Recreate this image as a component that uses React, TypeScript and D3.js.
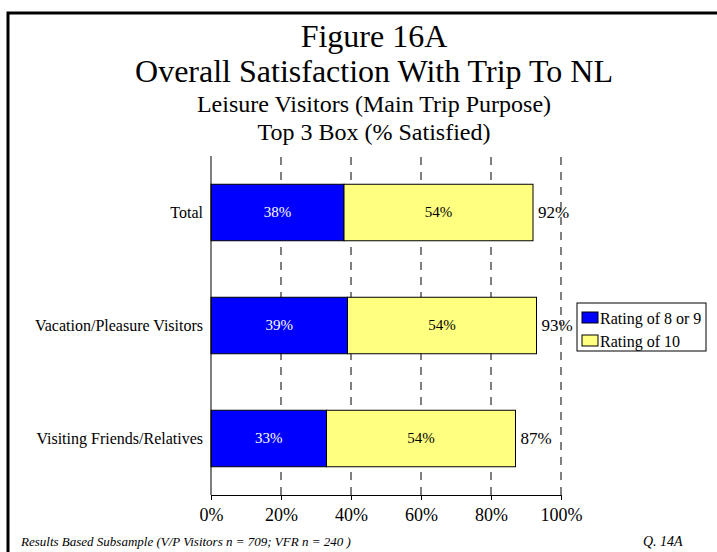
import React, { useRef, useEffect } from "react";
import * as d3 from "d3";

// chart data
const categories = ["Total", "Vacation/Pleasure Visitors", "Visiting Friends/Relatives"];
const rating8or9 = [38, 39, 33];
const rating10 = [54, 54, 54];
const totals = [92, 93, 87];
const seriesNames = ["Rating of 8 or 9", "Rating of 10"];
const seriesColors = ["#0000FF", "#FFFF80"];
const xTicks = [0, 20, 40, 60, 80, 100];
const titleLines = [
  "Figure 16A",
  "Overall Satisfaction With Trip To NL",
  "Leisure Visitors (Main Trip Purpose)",
  "Top 3 Box (% Satisfied)",
];

const App = () => {
  const ref = useRef<SVGSVGElement>(null);

  useEffect(() => {
    const width = 717;
    const height = 552;
    const font = "'Liberation Serif', 'Times New Roman', serif";

    // plot area
    const left = 211;
    const right = 561;
    const top = 156;
    const bottom = 495;

    const svg = d3.select(ref.current);
    svg.selectAll("*").remove();

    svg.append("rect")
      .attr("width", width)
      .attr("height", height)
      .attr("fill", "#fff");

    // outer frame
    svg.append("rect")
      .attr("x", 8)
      .attr("y", 13)
      .attr("width", width + 20)
      .attr("height", height + 20)
      .attr("fill", "none")
      .attr("stroke", "#000")
      .attr("stroke-width", 3);

    // titles
    const titleSizes = [32, 32, 24, 24];
    const titleY = [47, 82, 112, 140];
    svg.selectAll(".title")
      .data(titleLines)
      .enter()
      .append("text")
      .attr("class", "title")
      .attr("x", 374)
      .attr("y", (d, i) => titleY[i])
      .attr("text-anchor", "middle")
      .attr("font-family", font)
      .attr("font-size", (d, i) => titleSizes[i])
      .attr("fill", "#000")
      .text((d) => d);

    const x = d3.scaleLinear().domain([0, 100]).range([left, right]);
    const y = d3.scaleBand<string>()
      .domain(categories)
      .range([top, bottom])
      .paddingInner(0.5)
      .paddingOuter(0.25);

    // dashed gridlines
    svg.selectAll(".grid")
      .data(xTicks.slice(1))
      .enter()
      .append("line")
      .attr("class", "grid")
      .attr("x1", (d) => x(d))
      .attr("x2", (d) => x(d))
      .attr("y1", bottom)
      .attr("y2", top)
      .attr("stroke", "#000")
      .attr("stroke-width", 1)
      .attr("stroke-dasharray", "8,7");

    // stacked bars
    const rows = categories.map((c, i) => ({ cat: c, a: rating8or9[i], b: rating10[i], t: totals[i] }));

    const g = svg.selectAll(".row").data(rows).enter().append("g").attr("class", "row");

    g.append("rect")
      .attr("x", x(0))
      .attr("y", (d) => y(d.cat)!)
      .attr("width", (d) => x(d.a) - x(0))
      .attr("height", y.bandwidth())
      .attr("fill", seriesColors[0])
      .attr("stroke", "#000")
      .attr("stroke-width", 1);

    g.append("rect")
      .attr("x", (d) => x(d.a))
      .attr("y", (d) => y(d.cat)!)
      .attr("width", (d) => x(d.a + d.b) - x(d.a))
      .attr("height", y.bandwidth())
      .attr("fill", seriesColors[1])
      .attr("stroke", "#000")
      .attr("stroke-width", 1);

    // labels inside bars
    g.append("text")
      .attr("x", (d) => x(d.a / 2))
      .attr("y", (d) => y(d.cat)! + y.bandwidth() / 2)
      .attr("dy", "0.3em")
      .attr("text-anchor", "middle")
      .attr("font-family", font)
      .attr("font-size", 15)
      .attr("fill", "#fff")
      .text((d) => `${d.a}%`);

    g.append("text")
      .attr("x", (d) => x(d.a + d.b / 2))
      .attr("y", (d) => y(d.cat)! + y.bandwidth() / 2)
      .attr("dy", "0.3em")
      .attr("text-anchor", "middle")
      .attr("font-family", font)
      .attr("font-size", 15)
      .attr("fill", "#000")
      .text((d) => `${d.b}%`);

    // totals
    g.append("text")
      .attr("x", (d) => x(d.a + d.b) + 5)
      .attr("y", (d) => y(d.cat)! + y.bandwidth() / 2)
      .attr("dy", "0.35em")
      .attr("font-family", font)
      .attr("font-size", 17)
      .attr("fill", "#000")
      .text((d) => `${d.t}%`);

    // category labels
    g.append("text")
      .attr("x", left - 8)
      .attr("y", (d) => y(d.cat)! + y.bandwidth() / 2)
      .attr("dy", "0.33em")
      .attr("text-anchor", "end")
      .attr("font-family", font)
      .attr("font-size", 16)
      .attr("fill", "#000")
      .text((d) => d.cat);

    // left axis line
    svg.append("line")
      .attr("x1", left)
      .attr("x2", left)
      .attr("y1", top)
      .attr("y2", bottom)
      .attr("stroke", "#000");

    // bottom axis
    const xAxis = svg.append("g")
      .attr("transform", `translate(0,${bottom})`)
      .call(
        d3.axisBottom(x)
          .tickValues(xTicks)
          .tickSize(5)
          .tickSizeOuter(0)
          .tickPadding(8)
          .tickFormat((d) => `${d}%`)
      );
    xAxis.select(".domain").attr("stroke", "#000");
    xAxis.selectAll(".tick line").attr("stroke", "#000");
    xAxis.selectAll(".tick text")
      .attr("font-family", font)
      .attr("font-size", 18)
      .attr("fill", "#000");

    // legend
    const legend = svg.append("g").attr("transform", "translate(577,303)");
    legend.append("rect")
      .attr("width", 129)
      .attr("height", 48)
      .attr("fill", "#fff")
      .attr("stroke", "#000");
    seriesNames.forEach((name, i) => {
      legend.append("rect")
        .attr("x", 5)
        .attr("y", 9 + i * 23)
        .attr("width", 16)
        .attr("height", 11)
        .attr("fill", seriesColors[i])
        .attr("stroke", "#000");
      legend.append("text")
        .attr("x", 23)
        .attr("y", 15 + i * 23)
        .attr("dy", "0.35em")
        .attr("font-family", font)
        .attr("font-size", 16)
        .attr("fill", "#000")
        .text(name);
    });

    // footnotes
    svg.append("text")
      .attr("x", 21)
      .attr("y", 546)
      .attr("font-family", font)
      .attr("font-style", "italic")
      .attr("font-size", 13)
      .attr("fill", "#000")
      .text("Results Based Subsample (V/P Visitors n = 709; VFR n = 240 )");

    svg.append("text")
      .attr("x", 643)
      .attr("y", 546)
      .attr("font-family", font)
      .attr("font-style", "italic")
      .attr("font-size", 14)
      .attr("fill", "#000")
      .text("Q. 14A");
  }, []);

  return (
    <svg
      ref={ref}
      width={717}
      height={552}
      style={{ position: "absolute", left: 0, top: 0, display: "block" }}
    />
  );
};

export default App;
